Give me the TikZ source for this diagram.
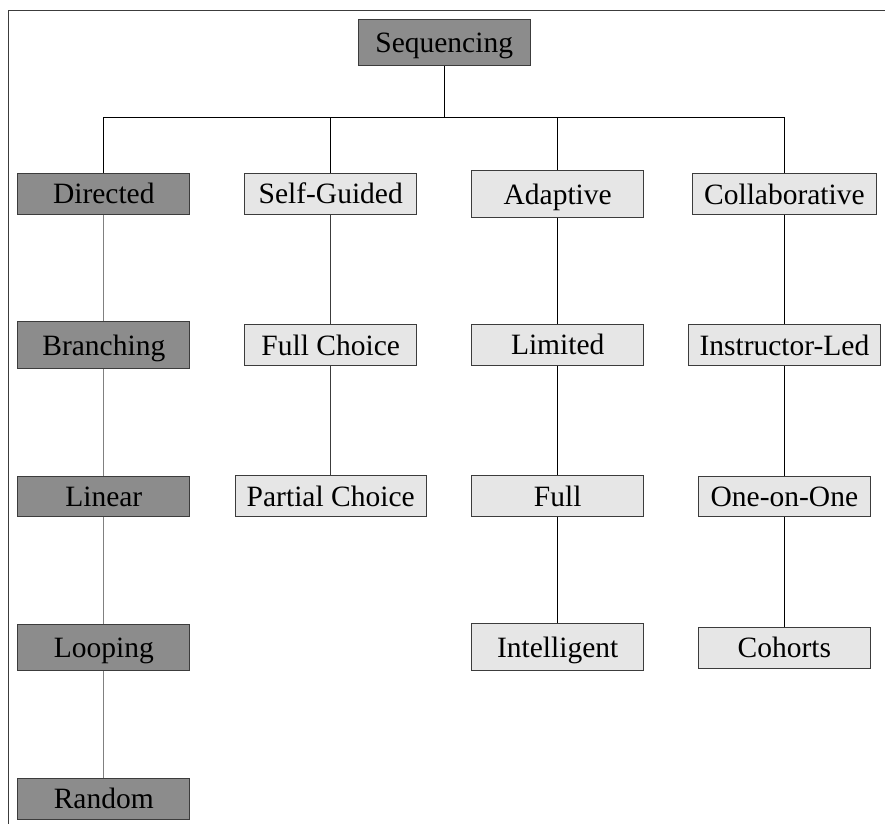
\documentclass[tikz,border=0pt]{standalone}
\usepackage{fontspec}
\setmainfont{Liberation Serif}
\usetikzlibrary{positioning}

\definecolor{boxdark}{HTML}{8C8C8C}
\definecolor{boxlight}{HTML}{E6E6E6}
\definecolor{edgegray}{HTML}{3C3C3C}

\tikzset{
  box/.style={draw=edgegray, line width=1pt, minimum width=172pt, minimum height=41pt,
    inner sep=0pt, text height=20pt, text depth=0pt,
    font=\fontsize{29.5}{32}\selectfont},
  darkbox/.style={box, fill=boxdark},
  lightbox/.style={box, fill=boxlight},
  link/.style={line width=1pt, black},
  greylink/.style={line width=1pt, gray}
}

\begin{document}
\begin{tikzpicture}[x=1pt,y=-1pt]
\useasboundingbox (0,0) rectangle (885,823);

% frame
\draw[line width=1pt, edgegray] (885,10.7) -- (8.7,10.7) -- (8.7,830);

% root
\node[darkbox, minimum height=46.4pt] (seq) at (444.2,42.5) {Sequencing};
\coordinate (bus) at (444.2,117.7);

% directed
\node[darkbox] (dir) at (103.8,193.8) {Directed};
\node[darkbox, minimum height=47pt] (bra) at (103.8,345.2) {Branching};
\node[darkbox, minimum height=40pt] (lin) at (103.8,496.3) {Linear};
\node[darkbox, minimum height=46.4pt] (loo) at (103.8,647.5) {Looping};
\node[darkbox] (ran) at (103.8,798.8) {Random};

% self-guided
\node[lightbox] (self) at (330.7,193.7) {Self-Guided};
\node[lightbox] (fch) at (330.7,345) {Full Choice};
\node[lightbox, minimum width=190.7pt] (pch) at (330.7,496.4) {Partial Choice};

% adaptive
\node[lightbox, minimum height=47.4pt] (ada) at (557.7,194) {Adaptive};
\node[lightbox] (lim) at (557.7,344.8) {Limited};
\node[lightbox] (ful) at (557.7,496.3) {Full};
\node[lightbox, minimum height=47.3pt] (int) at (557.7,647.3) {Intelligent};

% collaborative
\node[lightbox, minimum width=183.3pt, minimum height=40.6pt] (col) at (784.4,194) {Collaborative};
\node[lightbox, minimum width=192.7pt] (ins) at (784.4,345) {Instructor-Led};
\node[lightbox, minimum height=40pt] (one) at (784.4,496.3) {One-on-One};
\node[lightbox] (coh) at (784.4,647.7) {Cohorts};

% connectors
\draw[link] (seq) -- (bus);
\draw[link] (bus) -| (dir.north);
\draw[link] (bus) -| (self.north);
\draw[link] (bus) -| (ada.north);
\draw[link] (bus) -| (col.north);

\draw[greylink] (dir) -- (bra);
\draw[greylink] (bra) -- (lin);
\draw[greylink] (lin) -- (loo);
\draw[greylink] (loo) -- (ran);

\draw[link, edgegray] (self) -- (fch);
\draw[link, edgegray] (fch) -- (pch);

\draw[link] (ada) -- (lim);
\draw[link] (lim) -- (ful);
\draw[link] (ful) -- (int);

\draw[link] (col) -- (ins);
\draw[link] (ins) -- (one);
\draw[link] (one) -- (coh);

\end{tikzpicture}
\end{document}
